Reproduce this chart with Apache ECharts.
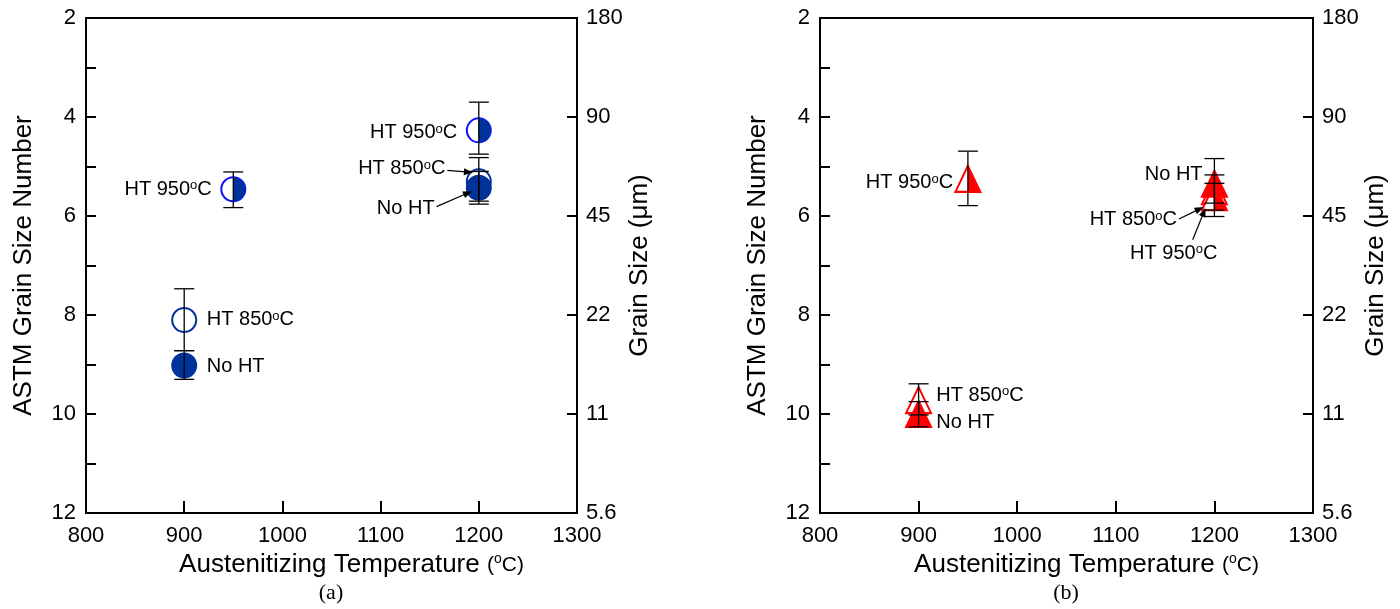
<!DOCTYPE html>
<html>
<head>
<meta charset="utf-8">
<script src="https://cdn.jsdelivr.net/npm/echarts@6/dist/echarts.min.js"></script>
<style>html,body{margin:0;padding:0;background:#fff}#c{width:1400px;height:609px}</style>
</head>
<body>
<div id="c"></div>
<script>
// ---------- data ----------
const tempRange = [800, 1300];
const astmRange = [2, 12];
const astmTicks = [2, 4, 6, 8, 10, 12];
const grainSizeLabels = ['180', '90', '45', '22', '11', '5.6'];

// [temperature, ASTM number, error low, error high]
const a_noHT  = [[900, 9.02, 8.72, 9.30], [1200, 5.43, 5.10, 5.76]];
const a_ht850 = [[900, 8.10, 7.47, 8.72], [1200, 5.30, 4.82, 5.70]];
const a_ht950 = [[950, 5.46, 5.11, 5.83], [1200, 4.27, 3.70, 4.75]];

const b_noHT  = [[900, 10.00, 9.75, 10.26], [1200, 5.35, 4.84, 5.88]];
const b_ht850 = [[900, 9.72, 9.39, 10.02], [1200, 5.50, 5.17, 5.74]];
const b_ht950 = [[950, 5.25, 4.69, 5.79], [1200, 5.62, 5.34, 6.01]];

// annotations: [x, y, text, side]
const a_notes = [
  [928, 5.46, 'HT 950{s|o}C', 'left'],
  [923, 8.10, 'HT 850{s|o}C', 'right'],
  [923, 9.05, 'No HT', 'right'],
  [1178, 4.32, 'HT 950{s|o}C', 'left'],
  [1166, 5.05, 'HT 850{s|o}C', 'left'],
  [1155, 5.84, 'No HT', 'left']
];
// arrows: [x from, y from, x to, y to]
const a_arrows = [
  [1168, 5.08, 1194, 5.12],
  [1157, 5.81, 1193, 5.50]
];
const b_notes = [
  [935, 5.33, 'HT 950{s|o}C', 'left'],
  [918, 9.62, 'HT 850{s|o}C', 'right'],
  [918, 10.18, 'No HT', 'right'],
  [1188, 5.17, 'No HT', 'left'],
  [1162, 6.08, 'HT 850{s|o}C', 'left'],
  [1203, 6.75, 'HT 950{s|o}C', 'left']
];
const b_arrows = [
  [1164, 6.06, 1189, 5.82],
  [1178, 6.48, 1191, 5.84]
];

// ---------- styles ----------
const FONT = '"Liberation Sans", Arial, sans-serif';
const NAVY = '#003399';
const BRIGHT = '#1010ff';
const RED = '#ff0000';
const TITLE_SIZE = 26;

function bottomAxis(g) {
  return {
    type: 'value', gridIndex: g, position: 'bottom',
    min: tempRange[0], max: tempRange[1], interval: 100,
    axisLine: {show: true, onZero: false, lineStyle: {color: '#000', width: 2}},
    axisTick: {show: true, inside: true, length: 12, lineStyle: {color: '#000', width: 2}},
    axisLabel: {fontSize: 22, color: '#000', margin: 12, fontFamily: FONT, showMinLabel: true, showMaxLabel: true,
      formatter: v => String(v)},
    splitLine: {show: false},
    name: 'Austenitizing Temperature {p|(}{s|o}{p|C)}',
    nameLocation: 'middle', nameGap: 36,
    nameTextStyle: {
      fontSize: TITLE_SIZE, color: '#000', fontFamily: FONT, padding: [0, 0, 0, 40],
      rich: {p: {fontSize: 21, color: '#000', fontFamily: FONT},
             s: {fontSize: 14, color: '#000', fontFamily: FONT, verticalAlign: 'top'}}
    }
  };
}
function topAxis(g) {
  return {
    type: 'value', gridIndex: g, position: 'top',
    min: tempRange[0], max: tempRange[1], interval: 100,
    axisLine: {show: true, onZero: false, lineStyle: {color: '#000', width: 2}},
    axisTick: {show: false}, axisLabel: {show: false}, splitLine: {show: false}
  };
}
function leftAxis(g) {
  return {
    type: 'value', gridIndex: g, position: 'left', inverse: true,
    min: astmRange[0], max: astmRange[1], interval: 2,
    axisLine: {show: true, onZero: false, lineStyle: {color: '#000', width: 2}},
    axisTick: {show: true, inside: true, length: 10, lineStyle: {color: '#000', width: 2}},
    minorTick: {show: true, splitNumber: 2, length: 10, lineStyle: {color: '#000', width: 2}},
    axisLabel: {fontSize: 22, color: '#000', margin: 10, fontFamily: FONT, showMinLabel: true, showMaxLabel: true},
    splitLine: {show: false}, minorSplitLine: {show: false},
    name: 'ASTM Grain Size Number', nameLocation: 'middle', nameGap: 49,
    nameTextStyle: {fontSize: TITLE_SIZE, color: '#000', fontFamily: FONT}
  };
}
function rightAxis(g) {
  return {
    type: 'value', gridIndex: g, position: 'right', inverse: true,
    min: astmRange[0], max: astmRange[1], interval: 2,
    axisLine: {show: true, onZero: false, lineStyle: {color: '#000', width: 2}},
    axisTick: {show: true, inside: true, length: 10, lineStyle: {color: '#000', width: 2}},
    axisLabel: {fontSize: 22, color: '#000', margin: 9, fontFamily: FONT, showMinLabel: true, showMaxLabel: true,
      formatter: v => grainSizeLabels[astmTicks.indexOf(v)] || ''},
    splitLine: {show: false},
    name: 'Grain Size (\u03bcm)', nameLocation: 'middle', nameGap: 47,
    nameTextStyle: {fontSize: TITLE_SIZE, color: '#000', fontFamily: FONT}
  };
}

function errorSeries(xi, yi, rows) {
  return {
    type: 'custom', xAxisIndex: xi, yAxisIndex: yi, z: 10, silent: true,
    encode: {x: 0, y: [1, 2, 3]},
    data: rows,
    renderItem: function (params, api) {
      const x = api.value(0);
      const lo = api.coord([x, api.value(2)]);
      const hi = api.coord([x, api.value(3)]);
      const w = 10;
      const st = {stroke: '#000', lineWidth: 1.3};
      return {type: 'group', children: [
        {type: 'line', shape: {x1: lo[0], y1: lo[1], x2: hi[0], y2: hi[1]}, style: st},
        {type: 'line', shape: {x1: lo[0] - w, y1: lo[1], x2: lo[0] + w, y2: lo[1]}, style: st},
        {type: 'line', shape: {x1: hi[0] - w, y1: hi[1], x2: hi[0] + w, y2: hi[1]}, style: st}
      ]};
    }
  };
}
function arrowSeries(xi, yi, rows) {
  return {
    type: 'custom', xAxisIndex: xi, yAxisIndex: yi, z: 12, silent: true,
    encode: {x: [0, 2], y: [1, 3]},
    data: rows,
    renderItem: function (params, api) {
      const p1 = api.coord([api.value(0), api.value(1)]);
      const p2 = api.coord([api.value(2), api.value(3)]);
      const dx = p2[0] - p1[0], dy = p2[1] - p1[1];
      const len = Math.sqrt(dx * dx + dy * dy) || 1;
      const ux = dx / len, uy = dy / len, nx = -uy, ny = ux;
      const L = 9, W = 3.5;
      const bx = p2[0] - L * ux, by = p2[1] - L * uy;
      return {type: 'group', children: [
        {type: 'line', shape: {x1: p1[0], y1: p1[1], x2: bx + 2 * ux, y2: by + 2 * uy},
         style: {stroke: '#000', lineWidth: 1.2}},
        {type: 'polygon', shape: {points: [[p2[0], p2[1]], [bx + W * nx, by + W * ny], [bx - W * nx, by - W * ny]]},
         style: {fill: '#000'}}
      ]};
    }
  };
}
function markerSeries(xi, yi, rows, symbol, size, fill, border, offset, z) {
  return {
    type: 'scatter', xAxisIndex: xi, yAxisIndex: yi, z: z, silent: true,
    symbol: symbol, symbolSize: size, symbolOffset: offset || [0, 0],
    itemStyle: {color: fill, borderColor: border, borderWidth: border ? 2 : 0, opacity: 1},
    data: rows.map(r => [r[0], r[1]])
  };
}
function noteSeries(xi, yi, notes) {
  const lbl = {
    show: true, fontSize: 20, color: '#000', fontFamily: FONT, opacity: 1,
    textBorderWidth: 0,
    rich: {s: {fontSize: 13, color: '#000', fontFamily: FONT, verticalAlign: 'top'}}
  };
  return {
    type: 'scatter', xAxisIndex: xi, yAxisIndex: yi, z: 12, silent: true,
    symbol: 'circle', symbolSize: 0,
    itemStyle: {opacity: 1},
    data: notes.map(n => ({
      value: [n[0], n[1]],
      label: Object.assign({}, lbl, {position: n[3], distance: 0, formatter: n[2]})
    })),
    label: lbl
  };
}

const halfCircle = 'path://M0,0 A10,10 0 0 1 0,20 Z';
const halfTriangle = 'path://M0,0 L10,20 L0,20 Z';
const CS = 24;
const TS = [25, 26];

const option = {
  animation: false,
  backgroundColor: '#ffffff',
  textStyle: {fontFamily: FONT},
  grid: [
    {left: 86, right: 823, top: 18, bottom: 96, containLabel: false},
    {left: 820, right: 87, top: 18, bottom: 96, containLabel: false}
  ],
  xAxis: [bottomAxis(0), topAxis(0), bottomAxis(1), topAxis(1)],
  yAxis: [leftAxis(0), rightAxis(0), leftAxis(1), rightAxis(1)],
  series: [
    // panel (a)
    markerSeries(0, 0, a_ht850, 'circle', CS, '#fff', NAVY, null, 2),
    markerSeries(0, 0, a_ht950, 'circle', CS, '#fff', BRIGHT, null, 3),
    markerSeries(0, 0, a_ht950, halfCircle, [CS / 2, CS], NAVY, null, [CS / 4, 0], 4),
    markerSeries(0, 0, a_noHT, 'circle', CS, NAVY, NAVY, null, 5),
    errorSeries(0, 0, a_noHT.concat(a_ht850, a_ht950)),
    noteSeries(0, 0, a_notes),
    arrowSeries(0, 0, a_arrows),
    // panel (b)
    markerSeries(2, 2, b_ht850, 'triangle', TS, '#fff', RED, null, 2),
    markerSeries(2, 2, b_ht950, 'triangle', TS, '#fff', RED, null, 3),
    markerSeries(2, 2, b_ht950, halfTriangle, [TS[0] / 2, TS[1]], RED, null, [TS[0] / 4, 0], 4),
    markerSeries(2, 2, b_noHT, 'triangle', TS, RED, RED, null, 5),
    errorSeries(2, 2, b_noHT.concat(b_ht850, b_ht950)),
    noteSeries(2, 2, b_notes),
    arrowSeries(2, 2, b_arrows)
  ],
  graphic: [
    {type: 'text', x: 331, y: 593, style: {text: '(a)', font: '22px "Liberation Serif", "Times New Roman", serif', fill: '#000', align: 'center', verticalAlign: 'middle'}},
    {type: 'text', x: 1066, y: 593, style: {text: '(b)', font: '22px "Liberation Serif", "Times New Roman", serif', fill: '#000', align: 'center', verticalAlign: 'middle'}}
  ]
};

const chart = echarts.init(document.getElementById('c'), null, {renderer: 'canvas'});
chart.setOption(option);
</script>
</body>
</html>
